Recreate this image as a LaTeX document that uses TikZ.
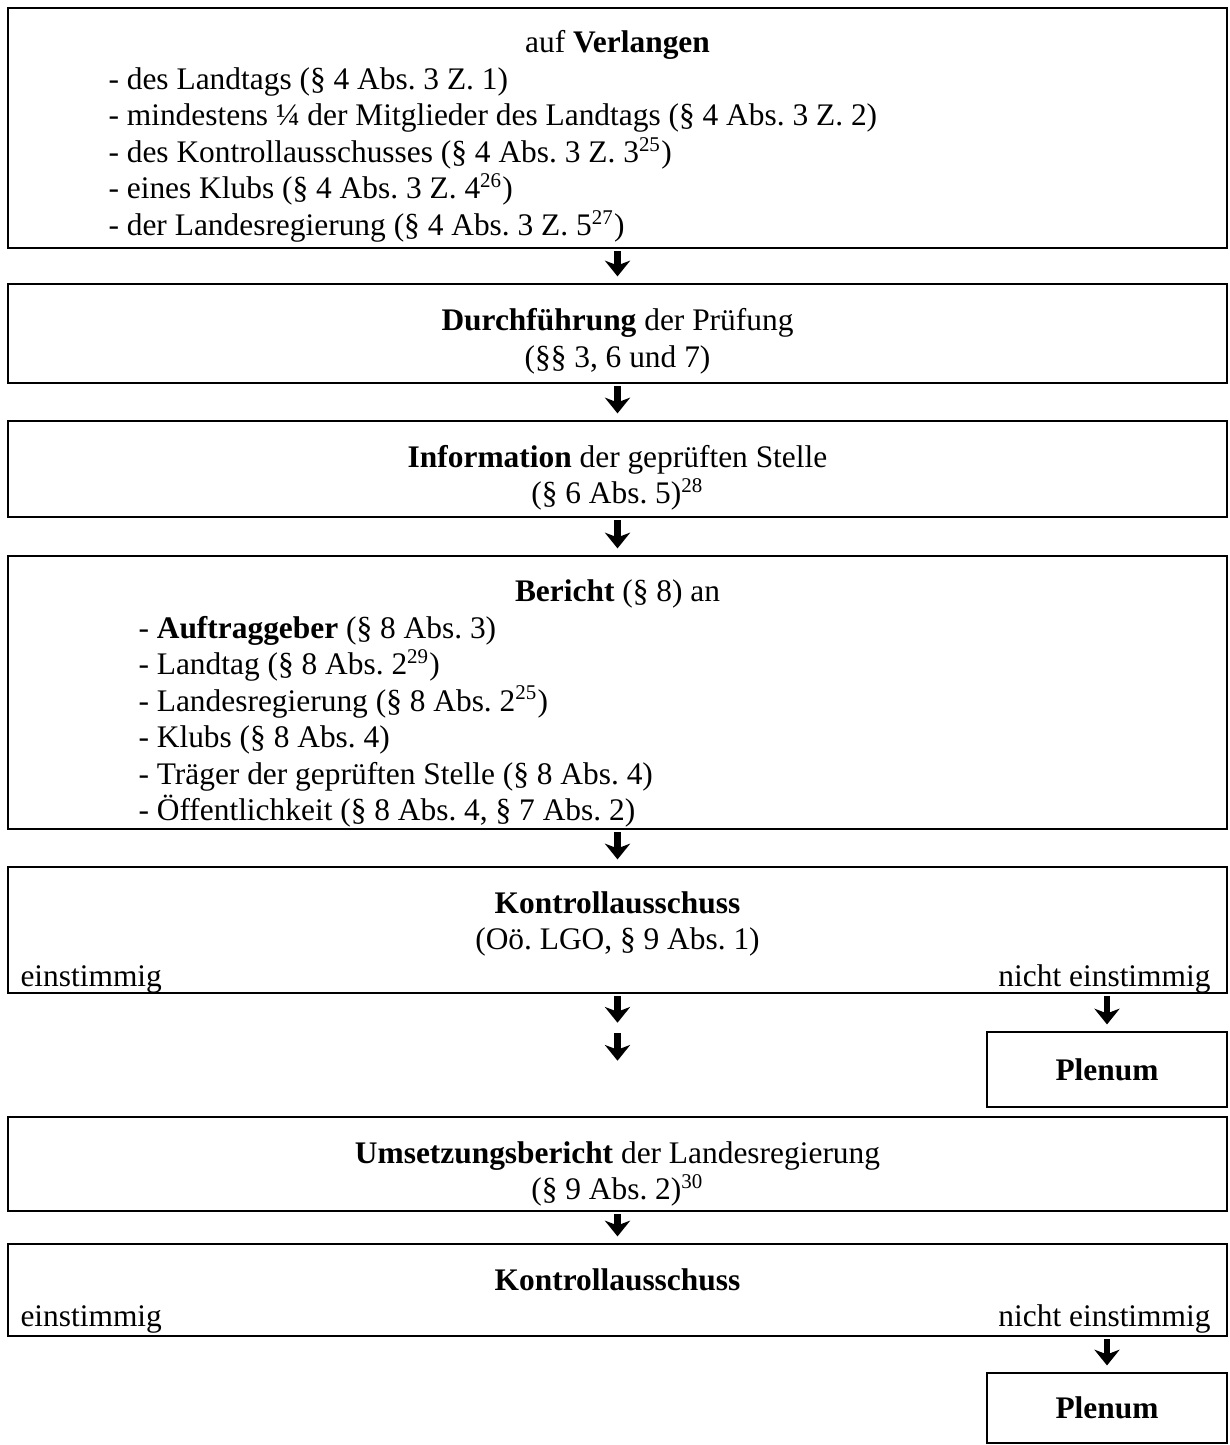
\documentclass[tikz,border=0pt]{standalone}
\usepackage{fontspec}
\setmainfont{Liberation Serif}
\usetikzlibrary{arrows.meta}
\frenchspacing

\newcommand{\pxu}{0.382pt}
\tikzset{
  stage/.style={draw, line width=1pt, inner sep=0pt, minimum width=1219*\pxu},
  plen/.style={draw, line width=1pt, inner sep=0pt, minimum width=240*\pxu, font=\fontsize{12}{14}\selectfont\bfseries},
  txt/.style={inner sep=0pt, anchor=base},
  item/.style={inner sep=0pt, anchor=base west},
  flow/.style={line width=2.5pt, -{Stealth[length=6pt, width=9.6pt, inset=1.8pt]}, shorten <=0.8pt, shorten >=2.4pt},
}

\begin{document}
\begin{tikzpicture}[x=\pxu, y=-\pxu, font=\fontsize{12}{14}\selectfont]
    \useasboundingbox (0,0) rectangle (1229,1445);

    \node[stage, minimum height=240*\pxu] (VL) at (617.5,128) {};
    \node[txt] (VLt) at (617.5,53) {auf \textbf{Verlangen}};
    \node[item] (VL1) at (108,89.5) {- des Landtags (§ 4 Abs. 3 Z. 1)};
    \node[item] (VL2) at (108,126) {- mindestens ¼ der Mitglieder des Landtags (§ 4 Abs. 3 Z. 2)};
    \node[item] (VL3) at (108,162.5) {- des Kontrollausschusses (§ 4 Abs. 3 Z. 3\textsuperscript{25})};
    \node[item] (VL4) at (108,199) {- eines Klubs (§ 4 Abs. 3 Z. 4\textsuperscript{26})};
    \node[item] (VL5) at (108,235.5) {- der Landesregierung (§ 4 Abs. 3 Z. 5\textsuperscript{27})};

    \node[stage, minimum height=99*\pxu] (DF) at (617.5,333.5) {};
    \node[txt] (DFt) at (617.5,331) {\textbf{Durchführung} der Prüfung};
    \node[txt] (DFs) at (617.5,367.5) {(§§ 3, 6 und 7)};

    \node[stage, minimum height=96*\pxu] (IN) at (617.5,469) {};
    \node[txt] (INt) at (617.5,467) {\textbf{Information} der geprüften Stelle};
    \node[txt] (INs) at (617.5,503.5) {(§ 6 Abs. 5)\textsuperscript{28}};

    \node[stage, minimum height=273*\pxu] (BE) at (617.5,692.5) {};
    \node[txt] (BEt) at (617.5,601) {\textbf{Bericht} (§ 8) an};
    \node[item] (BE1) at (138,638) {- \textbf{Auftraggeber} (§ 8 Abs. 3)};
    \node[item] (BE2) at (138,674.5) {- Landtag (§ 8 Abs. 2\textsuperscript{29})};
    \node[item] (BE3) at (138,711) {- Landesregierung (§ 8 Abs. 2\textsuperscript{25})};
    \node[item] (BE4) at (138,747.5) {- Klubs (§ 8 Abs. 4)};
    \node[item] (BE5) at (138,784) {- Träger der geprüften Stelle (§ 8 Abs. 4)};
    \node[item] (BE6) at (138,820.5) {- Öffentlichkeit (§ 8 Abs. 4, § 7 Abs. 2)};

    \node[stage, minimum height=126*\pxu] (KA) at (617.5,930) {};
    \node[txt] (KAt) at (617.5,913) {\textbf{Kontrollausschuss}};
    \node[txt] (KAs) at (617.5,949.5) {(Oö. LGO, § 9 Abs. 1)};
    \node[item] (KAe) at (20,986) {einstimmig};
    \node[inner sep=0pt, anchor=base east] (KAn) at (1211,986) {nicht einstimmig};

    \node[plen, minimum height=75*\pxu] (PL1) at (1107,1069.5) {Plenum};

    \node[stage, minimum height=94*\pxu] (US) at (617.5,1164) {};
    \node[txt] (USt) at (617.5,1163) {\textbf{Umsetzungsbericht} der Landesregierung};
    \node[txt] (USs) at (617.5,1199.5) {(§ 9 Abs. 2)\textsuperscript{30}};

    \node[stage, minimum height=92*\pxu] (KB) at (617.5,1290) {};
    \node[txt] (KBt) at (617.5,1290) {\textbf{Kontrollausschuss}};
    \node[item] (KBe) at (20,1326.5) {einstimmig};
    \node[inner sep=0pt, anchor=base east] (KBn) at (1211,1326.5) {nicht einstimmig};

    \node[plen, minimum height=70*\pxu] (PL2) at (1107,1408) {Plenum};

    \coordinate (G1) at (617.5,1029);
    \coordinate (G2) at (617.5,1031);
    \coordinate (G3) at (617.5,1067);

    \draw[flow] (VL) -- (DF);
    \draw[flow] (DF) -- (IN);
    \draw[flow] (IN) -- (BE);
    \draw[flow] (BE) -- (KA);
    \draw[flow] (KA) -- (G1);
    \draw[flow] (G2) -- (G3);
    \draw[flow] (KA.south -| PL1.north) -- (PL1.north);
    \draw[flow] (US) -- (KB);
    \draw[flow] (KB.south -| PL2.north) -- (PL2.north);
\end{tikzpicture}
\end{document}
